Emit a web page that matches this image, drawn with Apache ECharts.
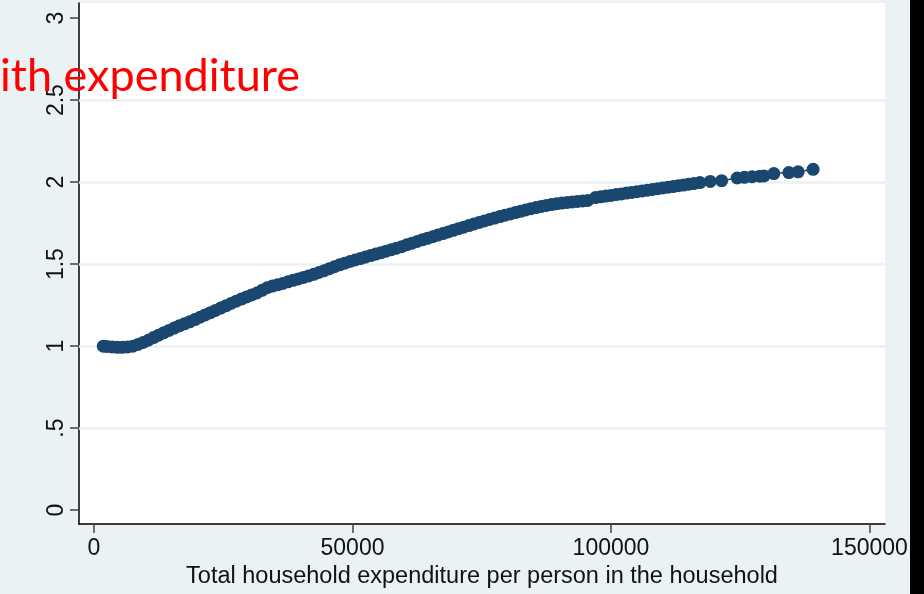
<!DOCTYPE html>
<html>
<head>
<meta charset="utf-8">
<script src="https://cdn.jsdelivr.net/npm/echarts@6/dist/echarts.min.js"></script>
<style>
  html, body { margin: 0; padding: 0; background: #eaf2f3; }
  #chart { width: 924px; height: 594px; }
</style>
</head>
<body>
<div id="chart"></div>
<script>
// total household expenditure per person (x) and fitted value (y)
const expenditure = [
  1800, 2500, 3500, 4500, 5500, 6500, 7500, 8500, 9500, 10500,
  11500, 12500, 13500, 14500, 15500, 16500, 17500, 18500, 19500, 20500,
  21500, 22500, 23500, 24500, 25500, 26500, 27500, 28500, 29500, 30500,
  31500, 32500, 33500, 34500, 35500, 36500, 37500, 38500, 39500, 40500,
  41500, 42500, 43500, 44500, 45500, 46500, 47500, 48500, 49500, 50500,
  51500, 52500, 53500, 54500, 55500, 56500, 57500, 58500, 59500, 60500,
  61500, 62500, 63500, 64500, 65500, 66500, 67500, 68500, 69500, 70500,
  71500, 72500, 73500, 74500, 75500, 76500, 77500, 78500, 79500, 80500,
  81500, 82500, 83500, 84500, 85500, 86500, 87500, 88500, 89500, 90500,
  91500, 92500, 93500, 94500, 95500,
  97000, 98000, 99000, 100000, 101000, 102000, 103000, 104000, 105000, 106000,
  107000, 108000, 109000, 110000, 111000, 112000, 113000, 114000, 115000, 116000,
  117200, 119200, 121400, 124400, 125800, 127300, 128800, 129600, 131500, 134400,
  136200, 139100
]
const fitted = [
  1.000, 0.998, 0.995, 0.993, 0.993, 0.995, 1.000, 1.010, 1.022, 1.036,
  1.052, 1.067, 1.082, 1.096, 1.110, 1.124, 1.136, 1.148, 1.162, 1.176,
  1.190, 1.204, 1.218, 1.232, 1.246, 1.260, 1.274, 1.287, 1.300, 1.312,
  1.324, 1.340, 1.356, 1.366, 1.374, 1.382, 1.392, 1.401, 1.410, 1.419,
  1.428, 1.438, 1.449, 1.460, 1.472, 1.484, 1.496, 1.506, 1.516, 1.525,
  1.534, 1.543, 1.552, 1.561, 1.570, 1.579, 1.588, 1.597, 1.606, 1.618,
  1.628, 1.638, 1.648, 1.657, 1.667, 1.677, 1.686, 1.696, 1.706, 1.716,
  1.725, 1.735, 1.745, 1.754, 1.763, 1.772, 1.781, 1.790, 1.798, 1.806,
  1.814, 1.822, 1.830, 1.838, 1.845, 1.852, 1.858, 1.863, 1.868, 1.872,
  1.876, 1.879, 1.882, 1.885, 1.888,
  1.906, 1.910, 1.915, 1.919, 1.924, 1.928, 1.933, 1.937, 1.942, 1.946,
  1.951, 1.955, 1.960, 1.964, 1.969, 1.973, 1.978, 1.982, 1.987, 1.991,
  1.997, 2.004, 2.009, 2.025, 2.029, 2.033, 2.036, 2.038, 2.052, 2.058,
  2.063, 2.078
]
const xTicks = [0, 50000, 100000, 150000]
const yTicks = [0, 0.5, 1, 1.5, 2, 2.5, 3]
const yGrid = [0.5, 1, 1.5, 2, 2.5]
const yTickLabels = ['0', '.5', '1', '1.5', '2', '2.5', '3']
const xTitle = 'Total household expenditure per person in the household'
const overlayText = 'ith expenditure'

const navy = '#1a476f'
const font = '"Liberation Sans", Arial, sans-serif'

const chart = echarts.init(document.getElementById('chart'), null, { renderer: 'canvas' })
chart.setOption({
  animation: false,
  backgroundColor: '#eaf2f3',
  grid: {
    left: 79,
    top: 3,
    width: 806,
    height: 523,
    show: true,
    backgroundColor: '#ffffff',
    borderWidth: 0
  },
  xAxis: {
    type: 'value',
    min: -2900,
    max: 153000,
    name: xTitle,
    nameLocation: 'middle',
    nameGap: 39,
    nameTextStyle: { fontFamily: font, fontSize: 23.5, color: '#111' },
    axisLine: { show: true, onZero: false, lineStyle: { color: '#000', width: 1.5 } },
    axisTick: { show: true, length: 9, customValues: xTicks, lineStyle: { color: '#444', width: 1.5 } },
    axisLabel: {
      customValues: xTicks,
      margin: 13,
      fontFamily: font,
      fontSize: 23,
      color: '#111',
      formatter: v => String(v)
    },
    splitLine: { show: false }
  },
  yAxis: {
    type: 'value',
    min: -0.085,
    max: 3.092,
    axisLine: { show: true, onZero: false, lineStyle: { color: '#000', width: 1.5 } },
    axisTick: { show: true, length: 9, customValues: yTicks, lineStyle: { color: '#444', width: 1.5 } },
    axisLabel: {
      customValues: yTicks,
      rotate: 90,
      margin: 11,
      fontFamily: font,
      fontSize: 23,
      color: '#111',
      formatter: v => yTickLabels[yTicks.indexOf(Math.round(v * 10) / 10)]
    },
    splitLine: { show: false }
  },
  graphic: [
    {
      type: 'rect',
      right: 0,
      top: 0,
      shape: { width: 14, height: 594 },
      style: { fill: '#000' },
      z: 100
    },
    {
      type: 'text',
      left: 0,
      top: 54,
      style: {
        text: overlayText,
        fill: '#ff0000',
        font: '45px Lato, "Noto Sans", sans-serif'
      },
      z: 100
    }
  ],
  series: [
    {
      name: 'grid',
      type: 'line',
      data: [],
      z: 1,
      markLine: {
        z: 1,
        silent: true,
        symbol: ['none', 'none'],
        label: { show: false },
        lineStyle: { color: '#eaf2f3', width: 2.5, type: 'solid' },
        data: yGrid.map(v => ({ yAxis: v }))
      }
    },
    {
      name: 'fitted',
      type: 'line',
      z: 3,
      data: expenditure.map((x, i) => [x, fitted[i]]),
      symbol: 'circle',
      symbolSize: 13,
      showSymbol: true,
      showAllSymbol: true,
      itemStyle: { color: navy },
      lineStyle: { color: navy, width: 1.5 }
    }
  ]
})
</script>
</body>
</html>
